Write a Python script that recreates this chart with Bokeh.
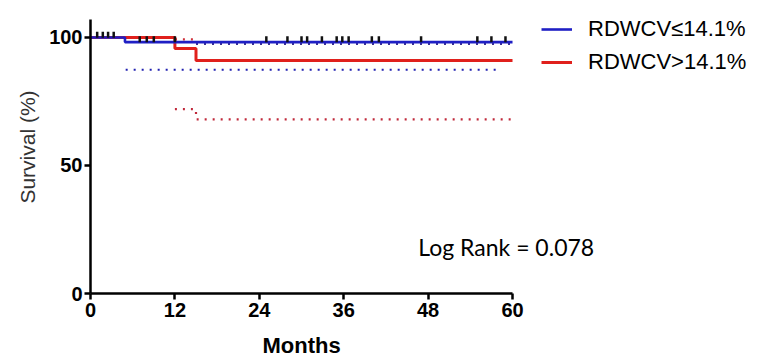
import numpy as np
from bokeh.plotting import figure
from bokeh.models import Range1d, Legend, LegendItem, Label, FixedTicker, Title
from bokeh.embed import file_html
from bokeh.resources import INLINE

# ---- data ----
x_ticks = [0, 12, 24, 36, 48, 60]
y_ticks = [0, 50, 100]

blue_label = "RDWCV≤14.1%"
red_label = "RDWCV>14.1%"

# Kaplan-Meier step curves (time in months, survival %)
blue_t = [0, 4.9, 60]
blue_s = [100, 98.2, 98.2]
red_t = [0, 12, 15, 60]
red_s = [100, 95.7, 91.0, 91.0]

# confidence bands (dotted)
blue_low_t = [5, 57.9]
blue_low_s = [87.4, 87.4]
red_low_t = [12, 15, 60]
red_low_s = [72.0, 68.0, 68.0]
red_up_t = [12, 15]
red_up_s = [99.3, 99.3]
up2_t = [15, 60]
up2_s = [97.5, 97.5]

# censored observations
censor_t = [0.95, 1.75, 2.5, 3.3, 7.0, 8.0, 9.0, 12.0, 25.0, 28.0, 30.0, 30.8,
            32.9, 35.0, 35.8, 36.7, 40.0, 41.0, 47.0, 55.0, 57.0, 59.0]

log_rank_text = "Log Rank = 0.078"
x_title = "Months"
y_title = "Survival (%)"

BLUE = "#1f1fc4"
RED = "#e0201c"

# frame spans the whole right side so the legend/annotation are not clipped;
# axes are bounded to the data extent
p = figure(width=761, height=361, output_backend="svg", toolbar_location=None,
           x_range=Range1d(0, 95.4), y_range=Range1d(0, 114.45),
           min_border_left=90, min_border_right=0, min_border_top=0,
           min_border_bottom=68)

# dotted CI lines
p.step(blue_low_t, blue_low_s, mode="after", line_color="#2020b0", line_width=2.2, line_dash="2 6")
p.step(red_low_t, red_low_s, mode="after", line_color="#c0283a", line_width=2.2, line_dash="2 6")
p.step(red_up_t, red_up_s, mode="after", line_color="#d0303a", line_width=2.2, line_dash="2 6")
p.step(up2_t, up2_s, mode="after", line_color="#3a2f90", line_width=2.2, line_dash="2 6")

red_line = p.step(red_t, red_s, mode="after", line_color=RED, line_width=3)
blue_line = p.step(blue_t, blue_s, mode="after", line_color=BLUE, line_width=2.6)

# censor ticks above the blue curve
bt = np.array(blue_t)
bs = np.array(blue_s)
idx = np.searchsorted(bt, np.array(censor_t), side="right") - 1
cy = bs[idx] + 1.1
censor = p.scatter(censor_t, cy, marker="dash", angle=np.pi / 2, size=6,
                   line_color="#111111", line_width=2.5)

# axes styling
for ax in (p.xaxis[0], p.yaxis[0]):
    ax.axis_line_width = 2.5
    ax.axis_line_color = "black"
    ax.major_tick_line_width = 2.5
    ax.major_tick_line_color = "black"
    ax.major_tick_out = 6
    ax.major_tick_in = 0
    ax.minor_tick_line_color = None
    ax.major_label_text_font = "Liberation Sans"
    ax.major_label_text_font_style = "bold"
    ax.major_label_text_font_size = "20px"
    ax.major_label_text_color = "black"

p.xaxis.bounds = (0, 60)
p.yaxis.bounds = (0, 107)
p.xaxis.ticker = FixedTicker(ticks=x_ticks)
p.yaxis.ticker = FixedTicker(ticks=y_ticks)
p.xaxis.major_label_standoff = 3
p.yaxis.major_label_standoff = 2

p.yaxis.axis_label = y_title
p.yaxis.axis_label_text_font = "Liberation Sans"
p.yaxis.axis_label_text_font_style = "normal"
p.yaxis.axis_label_text_font_size = "21px"
p.yaxis.axis_label_text_color = "#333333"
p.yaxis.axis_label_standoff = 7

# small spacer + x title placed under the bounded axis (centred on 0..60)
p.add_layout(Title(text=" ", text_font_size="8px", standoff=0), "below")
p.add_layout(Title(text=x_title, align="left", offset=172, standoff=0,
                   text_font="Liberation Sans", text_font_style="bold",
                   text_font_size="22px", text_color="black"), "below")

p.grid.visible = False
p.outline_line_color = None

legend = Legend(items=[LegendItem(label=blue_label, renderers=[blue_line]),
                       LegendItem(label=red_label, renderers=[red_line])],
                location=(451, 216), glyph_width=31, glyph_height=30, label_height=30,
                spacing=3, padding=0, margin=0, label_standoff=16,
                border_line_color=None, background_fill_alpha=0,
                label_text_font="Liberation Sans", label_text_font_size="22px",
                label_text_color="black")
p.add_layout(legend)

p.add_layout(Label(x=46.6, y=18.0, text=log_rank_text, text_font="Lato",
                   text_font_size="23px", text_color="black",
                   text_baseline="middle"))

open("out.html", "w").write(file_html(p, INLINE))
